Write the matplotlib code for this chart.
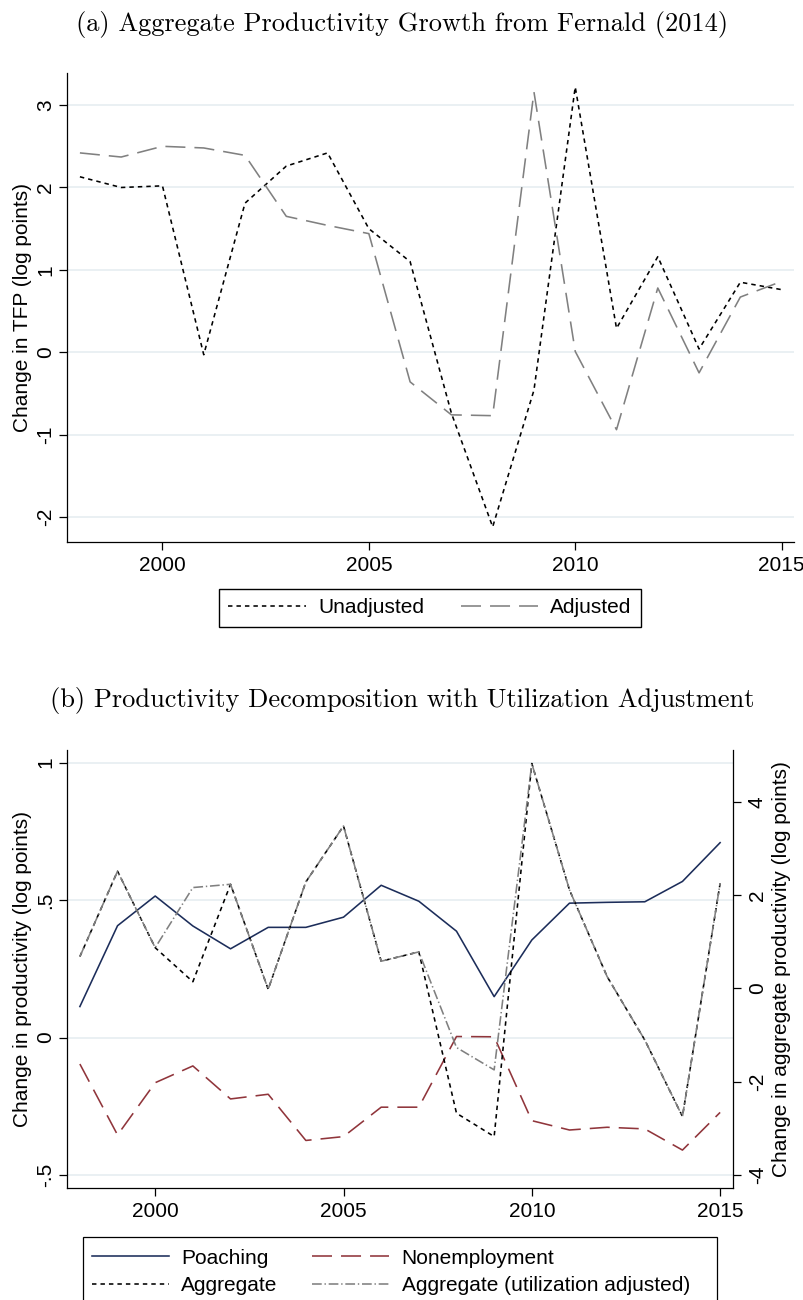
import matplotlib
matplotlib.use('Agg')
import matplotlib.pyplot as plt
from matplotlib.patches import Rectangle

plt.rcParams['font.family'] = ['Liberation Sans', 'DejaVu Sans']
plt.rcParams['font.size'] = 15
plt.rcParams['lines.scale_dashes'] = False
plt.rcParams['axes.unicode_minus'] = False

# ---- data ----
years = list(range(1998, 2016))

# panel (a)
unadjusted = [2.13, 2.00, 2.02, -0.03, 1.81, 2.26, 2.42, 1.50, 1.10, -0.74,
              -2.12, -0.46, 3.22, 0.29, 1.16, 0.04, 0.85, 0.76]
adjusted = [2.42, 2.37, 2.50, 2.48, 2.39, 1.65, 1.54, 1.44, -0.36, -0.76,
            -0.77, 3.16, 0.01, -0.94, 0.78, -0.25, 0.67, 0.86]

# panel (b), left axis
poaching = [0.113, 0.407, 0.515, 0.406, 0.323, 0.401, 0.401, 0.438, 0.554, 0.496,
            0.387, 0.149, 0.355, 0.489, 0.492, 0.494, 0.568, 0.709]
nonemployment = [-0.096, -0.354, -0.164, -0.103, -0.223, -0.206, -0.374, -0.360, -0.253, -0.253,
                 0.004, 0.003, -0.302, -0.336, -0.326, -0.332, -0.409, -0.272]
# panel (b), right axis
aggregate = [0.68, 2.51, 0.87, 0.14, 2.23, -0.02, 2.28, 3.48, 0.58, 0.78,
             -2.68, -3.18, 4.82, 2.11, 0.25, -1.11, -2.75, 2.25]
aggregate_util = [0.68, 2.51, 0.87, 2.16, 2.23, -0.02, 2.28, 3.48, 0.58, 0.78,
                  -1.27, -1.75, 4.82, 2.11, 0.25, -1.11, -2.75, 2.25]

xticks = [2000, 2005, 2010, 2015]
top_yticks = [-2, -1, 0, 1, 2, 3]
top_ylabels = ['-2', '-1', '0', '1', '2', '3']
left_yticks = [-0.5, 0, 0.5, 1]
left_ylabels = ['-.5', '0', '.5', '1']
right_yticks = [-4, -2, 0, 2, 4]
right_ylabels = ['-4', '-2', '0', '2', '4']

W, H = 804, 1300
navy = '#1c2d5a'
maroon = '#90353b'
gray = '#808080'
gridc = '#e6eef1'
lw = 1.15


def box(l, t, r, b):
    return [l / W, 1 - b / H, (r - l) / W, (b - t) / H]


def style(ax, right=False):
    ax.spines['top'].set_visible(False)
    ax.spines['right'].set_visible(right)
    for s in ['left', 'bottom', 'right']:
        ax.spines[s].set_linewidth(0.9)
    ax.tick_params(length=6, width=0.9, labelsize=15, color='black')
    ax.tick_params(axis='x', pad=4)
    ax.tick_params(axis='y', labelrotation=90, pad=2.5)
    ax.grid(axis='y', color=gridc, lw=1.2)
    ax.grid(axis='x', visible=False)
    ax.set_axisbelow(True)


fig = plt.figure(figsize=(W / 100, H / 100), dpi=100)

# ---- panel (a) ----
ax1 = fig.add_axes(box(66.7, 73, 794, 541.7))
style(ax1)
l_un, = ax1.plot(years, unadjusted, color='black', lw=lw, dashes=(3.2, 2.9), label='Unadjusted')
l_ad, = ax1.plot(years, adjusted, color=gray, lw=lw, dashes=(14.4, 6.5), label='Adjusted')
ax1.set_xlim(1997.68, 2015.3)
ax1.set_ylim(-2.30, 3.39)
ax1.set_xticks(xticks)
ax1.set_yticks(top_yticks)
ax1.set_yticklabels(top_ylabels)
for t in ax1.get_yticklabels():
    t.set_va('center')
ax1.set_ylabel('Change in TFP (log points)')
ax1.yaxis.set_label_coords((32 - 66.7) / (794 - 66.7), 0.5)

fig.legend([l_un, l_ad], ['Unadjusted', 'Adjusted'], ncol=2, loc='center',
           bbox_to_anchor=(430 / W, 1 - 608 / H), frameon=True, fancybox=False,
           edgecolor='black', framealpha=1, borderpad=0.45, handlelength=3.7,
           handletextpad=0.6, columnspacing=1.75, fontsize=15)

fig.text(0.5, 1 - 24 / H, '(a) Aggregate Productivity Growth from Fernald (2014)',
         fontfamily='cmr10', fontsize=19, ha='center', va='center')
fig.text(0.5, 1 - 700 / H, '(b) Productivity Decomposition with Utilization Adjustment',
         fontfamily='cmr10', fontsize=19, ha='center', va='center')

# ---- panel (b) ----
ax2 = fig.add_axes(box(66.7, 750, 733.3, 1188.3))
style(ax2)
l_po, = ax2.plot(years, poaching, color=navy, lw=lw, label='Poaching')
l_ne, = ax2.plot(years, nonemployment, color=maroon, lw=lw, dashes=(14.4, 6.5), label='Nonemployment')
ax2.set_xlim(1997.65, 2015.35)
ax2.set_ylim(-0.548, 1.046)
ax2.set_xticks(xticks)
ax2.set_yticks(left_yticks)
ax2.set_yticklabels(left_ylabels)
for t in ax2.get_yticklabels():
    t.set_va('center')
ax2.set_ylabel('Change in productivity (log points)')
ax2.yaxis.set_label_coords((32 - 66.7) / (733.3 - 66.7), 0.5)

ax3 = ax2.twinx()
ax3.spines['top'].set_visible(False)
ax3.spines['left'].set_visible(False)
ax3.spines['bottom'].set_visible(False)
ax3.spines['right'].set_linewidth(0.9)
l_ag, = ax3.plot(years, aggregate, color='black', lw=lw, dashes=(3.2, 2.9), label='Aggregate')
l_au, = ax3.plot(years, aggregate_util, color=gray, lw=lw, dashes=(7, 2, 1, 2),
                 label='Aggregate (utilization adjusted)')
ax3.set_ylim(-4.29, 5.11)
ax3.set_yticks(right_yticks)
ax3.set_yticklabels(right_ylabels)
ax3.tick_params(length=6, width=0.9, labelsize=15, labelrotation=90, pad=4.5)
for t in ax3.get_yticklabels():
    t.set_va('center')
ax3.set_ylabel('Change in aggregate productivity (log points)')
ax3.yaxis.set_label_coords((771.7 - 66.7) / (733.3 - 66.7), 0.5)

fig.legend([l_po, l_ag, l_ne, l_au],
           ['Poaching', 'Aggregate', 'Nonemployment', 'Aggregate (utilization adjusted)'],
           ncol=2, loc='upper left', bbox_to_anchor=(91.7 / W, 1 - 1248.5 / H),
           frameon=False, borderpad=0, borderaxespad=0, handlelength=3.7,
           handletextpad=0.6, columnspacing=1.65, labelspacing=0.4, fontsize=15)
fig.add_artist(Rectangle((82.7 / W, -0.02), 634 / W, (1 - 1236.7 / H) + 0.02,
                         transform=fig.transFigure, fill=False, lw=0.9, ec='black'))

fig.savefig('out.png', dpi=100)
